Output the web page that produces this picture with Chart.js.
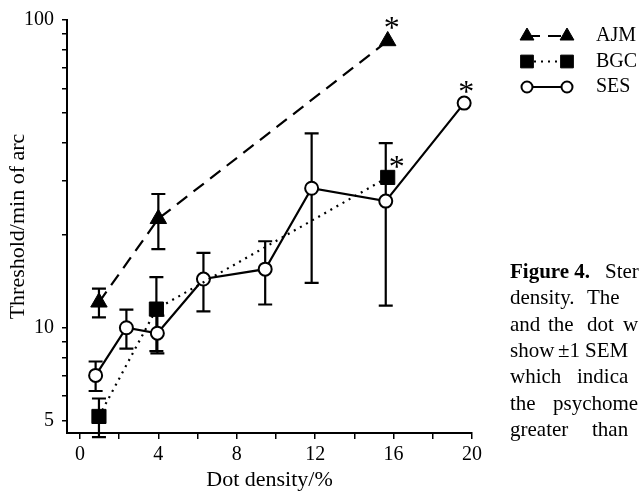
<!DOCTYPE html>
<html><head><meta charset="utf-8">
<script src="https://cdn.jsdelivr.net/npm/chart.js@4/dist/chart.umd.min.js"></script>
<style>html,body{margin:0;padding:0;background:#fff;}#wrap{width:640px;height:491px;position:relative;}</style>
</head><body><div id="wrap"><canvas id="c" width="640" height="491"></canvas></div>
<script>
// ---- data ----
const seriesNames = ['AJM', 'BGC', 'SES'];
const ajmX = [0.97, 4.0, 15.7];
const ajmY = [12.1, 22.6, 85.5];
const ajmErr = [1.3, 4.6, 0];
const ajmStar = [false, false, true];
const bgcX = [0.97, 3.9, 15.7];
const bgcY = [5.15, 11.5, 30.8];
const bgcErr = [0.74, 3.1, 0];
const bgcStar = [false, false, true];
const sesX = [0.8, 2.37, 3.95, 6.3, 9.45, 11.82, 15.6, 19.6];
const sesY = [7.0, 10.0, 9.6, 14.4, 15.5, 28.4, 25.8, 53.7];
const sesErr = [0.77, 1.45, 1.35, 3.1, 3.6, 14.4, 14.0, 0];
const sesStar = [false, false, false, false, false, false, false, true];
const xTickValues = [0, 2, 4, 6, 8, 10, 12, 14, 16, 18, 20];
const xTickLabels = ['0', '', '4', '', '8', '', '12', '', '16', '', '20'];
const yTickValues = [5, 6, 7, 8, 9, 10, 20, 30, 40, 50, 60, 70, 80, 90, 100];
const yTickLabels = ['5', '', '', '', '', '10', '', '', '', '', '', '', '', '', '100'];
const xTitle = 'Dot density/%';
const yTitle = 'Threshold/min of arc';
const captionLines = [
  [['Figure 4.', 0, true], ['Ster', 95, false]],
  [['density.', 0, false], ['The', 77, false]],
  [['and', 0, false], ['the', 38, false], ['dot', 77, false], ['w', 113, false]],
  [['show', 0, false], ['±1', 48, false], ['SEM', 75, false]],
  [['which', 0, false], ['indica', 67, false]],
  [['the', 0, false], ['psychome', 43, false]],
  [['greater', 0, false], ['than', 82, false]]
];

const FONT = '"Liberation Serif", "Times New Roman", serif';

const datasets = [
  {
    label: seriesNames[0],
    data: ajmX.map((x, i) => ({x: x, y: ajmY[i]})),
    errs: ajmErr, stars: ajmStar, starOff: [4, -15],
    borderColor: '#000', backgroundColor: '#000', borderWidth: 2.2,
    borderDash: [13, 8], pointStyle: 'triangle', pointRadius: 9.5,
    pointBorderWidth: 1, pointBackgroundColor: '#000', pointBorderColor: '#000',
    legendRadius: 8, clip: false, tension: 0
  },
  {
    label: seriesNames[1],
    data: bgcX.map((x, i) => ({x: x, y: bgcY[i]})),
    errs: bgcErr, stars: bgcStar, starOff: [9, -13],
    borderColor: '#000', backgroundColor: '#000', borderWidth: 2.2,
    borderDash: [2, 5], pointStyle: 'rect', pointRadius: 10,
    pointBorderWidth: 1, pointBackgroundColor: '#000', pointBorderColor: '#000',
    legendRadius: 9, clip: false, tension: 0
  },
  {
    label: seriesNames[2],
    data: sesX.map((x, i) => ({x: x, y: sesY[i]})),
    errs: sesErr, stars: sesStar, starOff: [2, -13],
    borderColor: '#000', backgroundColor: '#fff', borderWidth: 2.2,
    borderDash: [], pointStyle: 'circle', pointRadius: 6.5,
    pointBorderWidth: 2, pointBackgroundColor: '#fff', pointBorderColor: '#000',
    legendRadius: 5.5, clip: false, tension: 0
  }
];

const errorBars = {
  id: 'errorBars',
  beforeDatasetsDraw(chart) {
    const ctx = chart.ctx, xs = chart.scales.x, ys = chart.scales.y;
    ctx.save();
    ctx.strokeStyle = '#000';
    ctx.lineWidth = 2.2;
    ctx.setLineDash([]);
    chart.data.datasets.forEach(ds => {
      ds.data.forEach((p, i) => {
        const e = ds.errs[i];
        if (!e) return;
        const px = xs.getPixelForValue(p.x);
        const top = ys.getPixelForValue(p.y + e);
        const bot = ys.getPixelForValue(p.y - e);
        ctx.beginPath();
        ctx.moveTo(px, top); ctx.lineTo(px, bot);
        ctx.moveTo(px - 7, top); ctx.lineTo(px + 7, top);
        ctx.moveTo(px - 7, bot); ctx.lineTo(px + 7, bot);
        ctx.stroke();
      });
    });
    ctx.restore();
  }
};

const extras = {
  id: 'extras',
  afterDraw(chart) {
    const ctx = chart.ctx, xs = chart.scales.x, ys = chart.scales.y;
    ctx.save();
    // asterisks
    const starSize = 32;
    ctx.fillStyle = '#000';
    ctx.font = starSize + 'px ' + FONT;
    ctx.textAlign = 'center';
    ctx.textBaseline = 'alphabetic';
    chart.data.datasets.forEach(ds => {
      ds.data.forEach((p, i) => {
        if (!ds.stars[i]) return;
        const px = xs.getPixelForValue(p.x) + ds.starOff[0];
        const py = ys.getPixelForValue(p.y) + ds.starOff[1];
        ctx.fillText('*', px, py + 0.38 * starSize);
      });
    });
    // legend
    const lgX0 = 527, lgX1 = 567, lgLabelX = 596, lgY0 = 36, lgDy = 25.5;
    chart.data.datasets.forEach((ds, k) => {
      const y = lgY0 + k * lgDy;
      ctx.strokeStyle = '#000';
      ctx.lineWidth = ds.borderWidth;
      ctx.setLineDash(ds.borderDash);
      ctx.beginPath(); ctx.moveTo(lgX0, y); ctx.lineTo(lgX1, y); ctx.stroke();
      ctx.setLineDash([]);
      [lgX0, lgX1].forEach(x => {
        ctx.fillStyle = ds.pointBackgroundColor;
        ctx.strokeStyle = ds.pointBorderColor;
        ctx.lineWidth = ds.pointBorderWidth;
        Chart.helpers.drawPoint(ctx, {pointStyle: ds.pointStyle, radius: ds.legendRadius, borderWidth: ds.pointBorderWidth, rotation: 0}, x, y);
      });
      ctx.fillStyle = '#000';
      ctx.font = '20px ' + FONT;
      ctx.textAlign = 'left';
      ctx.textBaseline = 'middle';
      ctx.fillText(ds.label, lgLabelX, y);
    });
    // caption
    const capX = 510, capY0 = 278, capDy = 26.3;
    ctx.textBaseline = 'alphabetic';
    ctx.textAlign = 'left';
    captionLines.forEach((line, li) => {
      line.forEach(w => {
        ctx.font = (w[2] ? 'bold ' : '') + '21px ' + FONT;
        ctx.fillText(w[0], capX + w[1], capY0 + li * capDy);
      });
    });
    ctx.restore();
  }
};

new Chart(document.getElementById('c'), {
  type: 'line',
  data: {datasets: datasets},
  plugins: [errorBars, extras],
  options: {
    responsive: false,
    animation: false,
    devicePixelRatio: 1,
    layout: {padding: {top: 16, right: 168, left: 0, bottom: 0}},
    plugins: {legend: {display: false}, tooltip: {enabled: false}, title: {display: false}},
    scales: {
      x: {
        type: 'linear', min: -0.66, max: 20,
        afterBuildTicks: s => { s.ticks = xTickValues.map(v => ({value: v})); },
        afterFit: s => { s.height = 58; },
        ticks: {
          callback: v => xTickLabels[xTickValues.indexOf(v)],
          color: '#000', font: {family: FONT, size: 20}, padding: 4,
          maxRotation: 0, autoSkip: false
        },
        grid: {drawOnChartArea: false, drawTicks: true, tickLength: 6, color: '#000', lineWidth: 1.5},
        border: {color: '#000', width: 2},
        title: {display: true, text: xTitle, color: '#000', font: {family: FONT, size: 22, lineHeight: 1.0}, padding: {top: 0, bottom: 0}}
      },
      y: {
        type: 'logarithmic', min: 4.55, max: 100,
        afterBuildTicks: s => { s.ticks = yTickValues.map(v => ({value: v})); },
        afterFit: s => { s.width = 67; },
        ticks: {
          callback: v => yTickLabels[yTickValues.indexOf(v)],
          color: '#000', font: {family: FONT, size: 20}, padding: 8, autoSkip: false
        },
        grid: {drawOnChartArea: false, drawTicks: true, tickLength: 5, color: '#000', lineWidth: 1.5},
        border: {color: '#000', width: 2},
        title: {display: true, text: yTitle, color: '#000', font: {family: FONT, size: 22, lineHeight: 1.0}, padding: {top: 7, bottom: 0}}
      }
    }
  }
});
</script>
</body></html>
